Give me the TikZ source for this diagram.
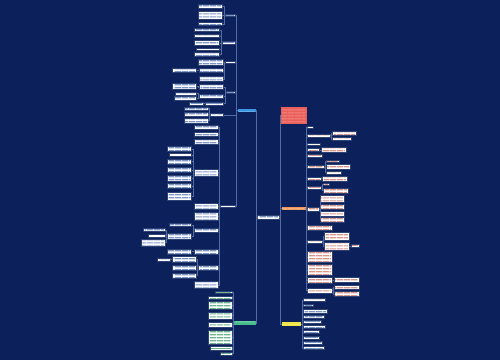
\documentclass[tikz,border=0pt]{standalone}
\usetikzlibrary{fit, patterns.meta}
\definecolor{bgnavy}{RGB}{12,32,92}
\definecolor{linkgray}{RGB}{80,110,165}
\definecolor{brblue}{RGB}{60,150,225}
\definecolor{brgreen}{RGB}{70,190,140}
\definecolor{brred}{RGB}{235,95,90}
\definecolor{brorange}{RGB}{240,150,90}
\definecolor{bryellow}{RGB}{240,228,60}
\definecolor{inkblue}{RGB}{125,150,200}
\definecolor{inkgreen}{RGB}{110,180,145}
\definecolor{inkpeach}{RGB}{215,150,140}
\definecolor{boxedge}{RGB}{45,65,115}
\tikzdeclarepattern{
  name=textlines, type=uncolored,
  bounding box={(0pt,0pt) and (4pt,1.5pt)},
  tile size={(4pt,1.5pt)},
  code={\draw[line width=0.7pt] (0pt,0.75pt) -- (4pt,0.75pt);}
}
\tikzset{
  box/.style={inner sep=0pt, outer sep=0pt, line width=0.3pt},
  inked/.style={path picture={\fill[pattern=textlines, pattern color=#1]
      ([shift={(0.7pt,-0.45pt)}]path picture bounding box.north west) rectangle
      ([shift={(-0.7pt,0.45pt)}]path picture bounding box.south east);}},
  leaf/.style={box, fill=white, draw=boxedge, inked=#1},
  leaf/.default=inkblue,
  leafg/.style={leaf=inkgreen},
  leafo/.style={leaf=inkpeach},
  branch/.style={box, fill=#1, inked=#1!75!white},
  link/.style={draw=linkgray, line width=0.3pt},
}

\begin{document}
\begin{tikzpicture}[x=0.02cm, y=-0.02cm]
  \fill[bgnavy] (0,0) rectangle (500,360);
  % centre and main branches
  \node[leaf=inkblue, fit={(257.7,215) (279.3,219.3)}] (C) {};
  \node[branch=brblue, fit={(237.7,109) (255.7,112.3)}] (B1) {};
  \node[branch=brgreen, fit={(234.3,321) (255.7,324.7)}] (G1) {};
  \node[branch=brred, fit={(281,107.3) (306.7,124)}] (R1) {};
  \node[branch=brorange, fit={(281.7,207) (305.7,210.3)}] (O1) {};
  \node[branch=bryellow, fit={(281.7,322) (301,325.7)}] (Y1) {};
  \foreach \c in {B1,G1}
    \draw[link] (C.west) -- ++(-1,0) |- (\c.east);
  \foreach \c in {R1,O1,Y1}
    \draw[link] (C.east) -- ++(1,0) |- (\c.west);

  % Left: blue branch
  \foreach \nm/\xa/\ya/\xb/\yb in {b1/225/14/235.7/16.7, b2/222/41.3/235.7/44,
      b3/225/61/235.7/63.7, b4/226/91/235.7/93.7, b5/210.7/113.7/223.7/116.3,
      b6/220.3/205/235.3/207.7,
      b1a/198/4.7/222.3/8.7, b1b/198/11.7/222.3/19.5, b1c/198/22.3/222.3/25.7,
      b2a/194.7/28/219.7/31.7, b2b/194.7/34.3/219.7/37.7, b2c/194.7/40.7/219.7/45.3,
      b2d/196.5/48/219.7/50.7, b2e/194.7/52.5/219.7/56.7,
      b3a/198/59.3/223/65.3, b3b/199/68.3/223.3/72.7, b3c/199/76/223.3/81.7,
      b3b1/172.7/68.3/196.7/72.7,
      b4a/199.3/84.7/223.7/89.3, b4b/199.3/94.3/223.7/98.5, b4c/205/102.3/223.7/105,
      b4a1/172.7/83.7/196.7/89.3, b4b1/175/92.3/196.7/95, b4b2/174/96.7/196.7/100,
      b4c1/189.3/102.3/203.3/105,
      b5a/184/107/208.3/110.3, b5b/184/112.5/208.3/116, b5c/184/118/208.3/123.5,
      b6a/194/125.7/218.3/129.3, b6b/194/132/218.3/136.3, b6c/194/139.2/218.3/144.5,
      b6d/194/169.2/218.3/176.2, b6e/194/203/218.3/209, b6f/194/212.3/218.3/220.3,
      b6g/194/227.8/218.3/232.5, b6h/194/249/218.3/254.5, b6i/198.3/265.7/218.3/270,
      b6j/194/281/218.3/288.7,
      d1/167.3/146.7/191.7/151, d2/169.3/153.7/191.7/156.7, d3/167.3/159/191.7/164.3,
      d4/167.3/167.3/191.7/172.7, d5/167.3/175.3/191.7/181, d6/167.3/183.3/191.7/188.7,
      d7/167.3/192/191.7/200.7,
      g1/169/223.3/191.7/226.5, g2/167.3/233/191.7/239.3,
      g2a/143.3/228.3/165/231.5, g2b/148/234.2/165/236.8, g2c/141/239/165/246,
      h1/167/249/191.7/254.2,
      i1/172.3/256.7/196.7/262.2, i2/172.3/265/196.7/270.3, i3/172.3/272.8/196.7/278.7,
      i1a/157.3/258.5/170/260.9}
    \node[leaf, fit={(\xa,\ya) (\xb,\yb)}] (\nm) {};
  \foreach \p/\c in {B1/b1, B1/b2, B1/b3, B1/b4, B1/b5, B1/b6,
      b1/b1a, b1/b1b, b1/b1c, b2/b2a, b2/b2b, b2/b2c, b2/b2d, b2/b2e,
      b3/b3a, b3/b3b, b3/b3c, b3b/b3b1, b4/b4a, b4/b4b, b4/b4c,
      b4a/b4a1, b4b/b4b1, b4b/b4b2, b4c/b4c1, b5/b5a, b5/b5b, b5/b5c,
      b6/b6a, b6/b6b, b6/b6c, b6/b6d, b6/b6e, b6/b6f, b6/b6g, b6/b6h, b6/b6i, b6/b6j,
      b6d/d1, b6d/d2, b6d/d3, b6d/d4, b6d/d5, b6d/d6, b6d/d7,
      b6g/g1, b6g/g2, g2/g2a, g2/g2b, g2/g2c, b6h/h1,
      b6i/i1, b6i/i2, b6i/i3, i1/i1a}
    \draw[link] (\p.west) -- ++(-1,0) |- (\c.east);

  % Left: green branch
  \foreach \nm/\xa/\ya/\yb in {e1/215/291/293.5, e2/208.3/296/299, e3/208.3/301/309.3,
      e4/208.3/312/319, e5/208.3/322/327.3, e6/208.3/330.3/344, e7/210/346.7/350,
      e8/220/352.3/355}
    \node[leafg, fit={(\xa,\ya) (232.3,\yb)}] (\nm) {};
  \foreach \c in {e1,e2,e3,e4,e5,e6,e7,e8}
    \draw[link] (G1.west) -- ++(-1,0) |- (\c.east);

  % Right: orange branch
  \foreach \nm/\xa/\ya/\xb/\yb in {c1/307.7/126/313.5/128.3, c2/307.7/134.5/330/137,
      c3/307.7/143/320/145.5, c4/307.7/148.5/319.5/151.2, c5/307.7/154.7/322.3/157.3,
      c6/307.7/165.5/324/168.7, c7/307.7/177.2/321/180, c8/307.7/186.2/321.7/189.2,
      c9/307.7/207.5/319/210.8, c10/307.7/224.8/332.3/230, c11/307.7/240/322.3/243,
      c12/307.7/251.7/332.3/262.3, c13/307.7/264.7/332.3/275, c14/307.7/277.7/332.3/283,
      c15/307.7/288/332.3/293.3,
      c2a/332.3/131/356.7/135, c2b/332.3/137.7/351/140, c4a/321/147.7/346/152.5,
      c6a/326/160/339/162.7, c6b/326/164.3/350.7/169.3, c6c/326/171.2/340.8/174,
      c7a/322.7/176.3/347.3/181.2, c8a/323.5/183.3/329.3/185.7, c8b/323.5/188.2/348.3/192.8,
      c9a/320/195/344.3/202.5, c9b/320/204.5/344.3/209.2, c9c/320/211.3/344.3/216.2,
      c9d/320/217.7/344.3/222.3, c11a/324.3/232.7/349/240, c11b/324.3/242.7/349/250,
      c11b1/351/244.7/359.3/247.3, c14a/334/277.7/359/282.3,
      c15a/334/285/359/289.3, c15b/334/291.7/359/296.5}
    \node[leafo, fit={(\xa,\ya) (\xb,\yb)}] (\nm) {};
  \foreach \p/\c in {O1/c1, O1/c2, O1/c3, O1/c4, O1/c5, O1/c6, O1/c7, O1/c8, O1/c9,
      O1/c10, O1/c11, O1/c12, O1/c13, O1/c14, O1/c15,
      c2/c2a, c2/c2b, c4/c4a, c6/c6a, c6/c6b, c6/c6c, c7/c7a, c8/c8a, c8/c8b,
      c9/c9a, c9/c9b, c9/c9c, c9/c9d, c11/c11a, c11/c11b, c11b/c11b1,
      c14/c14a, c15/c15a, c15/c15b}
    \draw[link] (\p.east) -- ++(1,0) |- (\c.west);

  % Right: yellow branch
  \foreach \nm/\ya/\xb/\yb in {y1/298.3/325.7/301.7, y2/304/313.3/306.7, y3/309/327.7/313.3,
      y4/315.7/324/318.7, y5/320.7/321.7/323.7, y6/325.7/325.7/328.7, y7/330.7/319/333.7,
      y8/336/319/339, y9/341/322.7/344, y10/346.3/324/349.7}
    \node[leaf, fit={(303.3,\ya) (\xb,\yb)}] (\nm) {};
  \foreach \c in {y1,y2,y3,y4,y5,y6,y7,y8,y9,y10}
    \draw[link] (Y1.east) -- ++(1,0) |- (\c.west);
\end{tikzpicture}
\end{document}
